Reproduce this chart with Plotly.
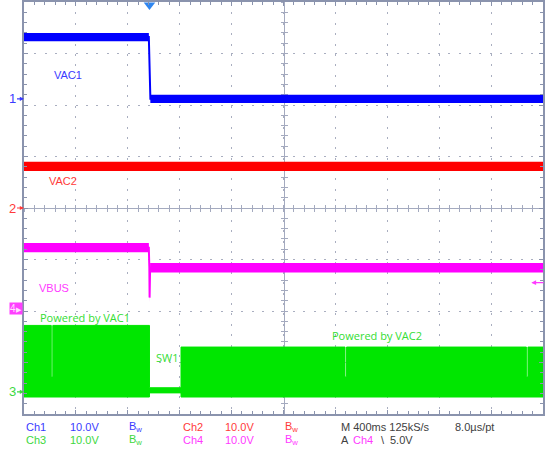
import plotly.graph_objects as go

# ---------------- data (seconds, volts) ----------------
# Ch1 : VAC1
VAC1_T = [0.0, 0.962, 0.974, 4.0]
VAC1_V = [12.0, 12.0, 0.0, 0.0]
VAC1_RIPPLE = 0.8
# Ch2 : VAC2
VAC2_T = [0.0, 4.0]
VAC2_V = [8.1, 8.1]
VAC2_RIPPLE = 0.9
# Ch4 : VBUS
VBUS_T = [0.0, 0.962, 0.966, 0.968, 0.972, 4.0]
VBUS_V = [11.8, 11.8, 7.9, 2.1, 7.9, 7.9]
VBUS_RIPPLE = 0.9
# Ch3 : SW1 (switch node, envelope of switching per segment)
SW1_T = [0.0, 0.210, 0.222, 0.967, 1.210, 2.474, 2.486, 3.872, 3.884, 4.0]
SW1_HI = [12.9, 2.9, 12.9, 0.8, 8.7, 2.9, 8.7, 2.9, 8.7]
SW1_LO = [-1.0, -1.0, -1.0, -0.2, -1.0, -1.0, -1.0, -1.0, -1.0]

TRIGGER_T = 0.967
TRIGGER_LEVEL_V = 5.0

# scope settings
VOLTS_PER_DIV = 10.0
GND_DIV = {"ch1": 2.12, "ch2": 0.0, "ch3": -3.57, "ch4": -1.95}

COL = {"ch1": "#0000ff", "ch2": "#ff0000", "ch3": "#00e600", "ch4": "#ff00ff"}
TXT = {"ch1": "#3a3aff", "ch2": "#ff3a3a", "ch3": "#3ed83e", "ch4": "#ff3aff"}


def to_div(ch, v):
    return GND_DIV[ch] + v / VOLTS_PER_DIV


fig = go.Figure()

# dummy trace so the centre graticule axes get drawn
fig.add_trace(go.Scatter(x=[None], y=[None], xaxis="x2", yaxis="y2",
                         showlegend=False, hoverinfo="skip"))


def band(ch, t, v, r):
    up = [to_div(ch, a + r) for a in v]
    lo = [to_div(ch, a - r) for a in v]
    fig.add_trace(go.Scatter(x=t, y=up, mode="lines", line=dict(width=0, color=COL[ch]),
                             xaxis="x3", yaxis="y3", showlegend=False, hoverinfo="skip"))
    fig.add_trace(go.Scatter(x=t, y=lo, mode="lines", line=dict(width=0, color=COL[ch]),
                             fill="tonexty", fillcolor=COL[ch],
                             xaxis="x3", yaxis="y3", showlegend=False, hoverinfo="skip"))
    fig.add_trace(go.Scatter(x=t, y=[to_div(ch, a) for a in v], mode="lines",
                             line=dict(width=2, color=COL[ch]),
                             xaxis="x3", yaxis="y3", showlegend=False, hoverinfo="skip"))


band("ch1", VAC1_T, VAC1_V, VAC1_RIPPLE)
band("ch2", VAC2_T, VAC2_V, VAC2_RIPPLE)
band("ch4", VBUS_T, VBUS_V, VBUS_RIPPLE)

# SW1 switching envelope as a stepped polygon
xs, ys = [], []
for i in range(len(SW1_HI)):
    xs += [SW1_T[i], SW1_T[i + 1]]
    ys += [to_div("ch3", SW1_HI[i]), to_div("ch3", SW1_HI[i])]
for i in reversed(range(len(SW1_LO))):
    xs += [SW1_T[i + 1], SW1_T[i]]
    ys += [to_div("ch3", SW1_LO[i]), to_div("ch3", SW1_LO[i])]
fig.add_trace(go.Scatter(x=xs, y=ys, mode="lines", fill="toself", fillcolor=COL["ch3"],
                         line=dict(width=1, color=COL["ch3"]),
                         xaxis="x3", yaxis="y3", showlegend=False, hoverinfo="skip"))

# trigger position marker at top
fig.add_trace(go.Scatter(x=[TRIGGER_T], y=[3.94], mode="markers",
                         marker=dict(symbol="triangle-down", size=10, color="#2f86f0"),
                         cliponaxis=False, xaxis="x3", yaxis="y3",
                         showlegend=False, hoverinfo="skip"))

GRID = "#a9aec0"
BORDER = "#8a93ad"
CENTER = "#a4aabf"
common_x = dict(range=[0, 4.0], showticklabels=False, zeroline=False)
common_y = dict(range=[-4, 4], showticklabels=False, zeroline=False)

fig.update_layout(
    width=545, height=453,
    margin=dict(l=24, r=2, t=0, b=39),
    plot_bgcolor="white", paper_bgcolor="white",
    showlegend=False,
    xaxis=dict(**common_x, dtick=0.4, tick0=0, showgrid=True, gridcolor=GRID, gridwidth=1,
               griddash="2px,8.38px", showline=True, linecolor=BORDER, linewidth=2,
               mirror="ticks", ticks="inside", ticklen=4, tickcolor=BORDER,
               minor=dict(dtick=0.08, tick0=0, ticks="inside", ticklen=3,
                          tickcolor=BORDER, showgrid=False)),
    yaxis=dict(**common_y, dtick=1, tick0=0, showgrid=True, gridcolor=GRID, gridwidth=1,
               griddash="2px,8.35px", showline=True, linecolor=BORDER, linewidth=2,
               mirror="ticks", ticks="inside", ticklen=4, tickcolor=BORDER,
               minor=dict(dtick=0.2, tick0=0, ticks="inside", ticklen=3,
                          tickcolor=BORDER, showgrid=False)),
    xaxis2=dict(**common_x, overlaying="x", anchor="free", position=0.5, showgrid=False,
                showline=True, linecolor=CENTER, linewidth=1, layer="below traces",
                ticks="inside", ticklen=3, dtick=0.08, tick0=0, tickcolor=CENTER),
    yaxis2=dict(**common_y, overlaying="y", anchor="free", position=0.5, showgrid=False,
                showline=True, linecolor=CENTER, linewidth=1, layer="below traces",
                ticks="inside", ticklen=3, dtick=0.2, tick0=0, tickcolor=CENTER),
    xaxis3=dict(**common_x, overlaying="x", anchor="free", position=0.5, showgrid=False,
                showline=False, ticks="outside", ticklen=3, dtick=0.08, tick0=0,
                tickcolor=CENTER, layer="below traces"),
    yaxis3=dict(**common_y, overlaying="y", anchor="free", position=0.5, showgrid=False,
                showline=False, ticks="outside", ticklen=3, dtick=0.2, tick0=0,
                tickcolor=CENTER, layer="below traces"),
)

ann = []
LBL = dict(family="Liberation Sans", size=11)
# trace labels
ann.append(dict(x=0.216, y=2.59, text="VAC1", font=dict(**LBL, color=TXT["ch1"])))
ann.append(dict(x=0.177, y=0.52, text="VAC2", font=dict(**LBL, color=TXT["ch2"])))
ann.append(dict(x=0.100, y=-1.55, text="VBUS", font=dict(**LBL, color=TXT["ch4"])))
GF = dict(family="Open Sans", size=11, color="#33dd33")
ann.append(dict(x=0.108, y=-2.13, text="Powered by VAC1", font=GF))
ann.append(dict(x=1.000, y=-2.90, text="SW1", font=GF))
ann.append(dict(x=2.358, y=-2.47, text="Powered by VAC2", font=GF))
for a in ann:
    a.update(xref="x", yref="y", xanchor="left", yanchor="middle", showarrow=False)

# channel ground markers
for ch, num in (("ch1", "1"), ("ch2", "2"), ("ch3", "3")):
    ann.append(dict(x=0, xref="paper", y=GND_DIV[ch], yref="y", text=num,
                    font=dict(family="Liberation Sans", size=13, color=TXT[ch]),
                    showarrow=True, ax=-12, ay=0, arrowhead=2, arrowsize=0.7,
                    arrowwidth=1.2, arrowcolor=TXT[ch]))
ann.append(dict(x=-0.002, xref="paper", y=GND_DIV["ch4"], yref="y",
                text="4<span style='font-size:7px'>▶</span>",
                font=dict(family="Liberation Sans", size=10, color="#ffe0ff"),
                bgcolor="#ff40ff", borderpad=0, xanchor="right", yanchor="middle",
                showarrow=False))
# trigger level arrow on the right
ann.append(dict(x=3.91, xref="x", y=to_div("ch4", TRIGGER_LEVEL_V), yref="y", text="",
                showarrow=True, ax=15, ay=0, arrowhead=2, arrowsize=0.8, arrowwidth=1.2,
                arrowcolor=TXT["ch4"]))

# bottom status rows
PLOT_H = 414.0
PLOT_L, PLOT_W = 24.0, 519.0
SF = dict(family="Liberation Sans", size=11)
rows = [
    (427, [(24, "Ch1", TXT["ch1"]), (68, "10.0V", TXT["ch1"]), (127, "B<sub>w</sub>", TXT["ch1"]),
           (181, "Ch2", TXT["ch2"]), (223, "10.0V", TXT["ch2"]), (283, "B<sub>w</sub>", TXT["ch2"]),
           (339, "M 400ms 125kS/s", "#404040"), (453, "8.0µs/pt", "#404040")]),
    (440, [(24, "Ch3", TXT["ch3"]), (68, "10.0V", TXT["ch3"]), (127, "B<sub>w</sub>", TXT["ch3"]),
           (181, "Ch4", TXT["ch4"]), (223, "10.0V", TXT["ch4"]), (283, "B<sub>w</sub>", TXT["ch4"]),
           (339, "A", "#404040"), (351, "Ch4", TXT["ch4"]), (379, "\\", "#404040"),
           (388, "5.0V", "#404040")]),
]
for py, items in rows:
    for px, text, color in items:
        ann.append(dict(x=(px - PLOT_L) / PLOT_W, y=(PLOT_H - py) / PLOT_H, xref="paper",
                        yref="paper", text=text, xanchor="left", yanchor="middle",
                        showarrow=False, font=dict(**SF, color=color)))

fig.update_layout(annotations=ann)
fig.write_html("out.html", config={"displayModeBar": False},
               post_script="document.body.style.margin='0';")
